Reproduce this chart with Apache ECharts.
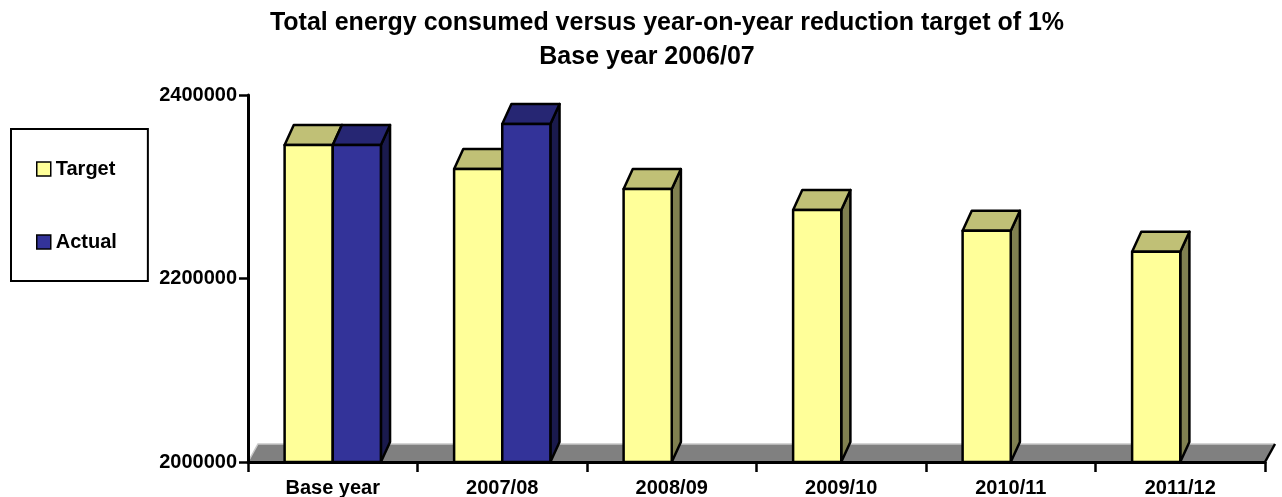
<!DOCTYPE html>
<html>
<head>
<meta charset="utf-8">
<script src="https://cdn.jsdelivr.net/npm/echarts@6/dist/echarts.min.js"></script>
<style>
html,body{margin:0;padding:0;background:#fff;}
#chart{width:1282px;height:497px;}
</style>
</head>
<body>
<div id="chart"></div>
<script>
const categories = ['Base year', '2007/08', '2008/09', '2009/10', '2010/11', '2011/12'];
const targetValues = [2345500, 2319300, 2297500, 2274700, 2252100, 2229200];
const actualValues = [2345500, 2368400];
const yMin = 2000000;
const yMax = 2400000;
const yInterval = 200000;
const titleLine1 = 'Total energy consumed versus year-on-year reduction target of 1%';
const titleLine2 = 'Base year 2006/07';

const FONT = '"Liberation Sans", Arial, sans-serif';
const colors = {
  Target: { front: '#FFFF99', top: '#C0C076', side: '#808050' },
  Actual: { front: '#333399', top: '#262673', side: '#1A1A4D' }
};

function makeBarRender(name, leftSlot) {
  return function (params, api) {
    const ci = api.value(0);
    const v = api.value(1);
    const p = api.coord([ci, v]);
    const b = api.coord([ci, yMin]);
    const band = api.size([1, 0])[0];
    const w = band * 0.284;
    const x0 = leftSlot ? p[0] - w : p[0];
    const x1 = x0 + w;
    const dx = band * 0.054;
    const dy = 20;
    const c = colors[name];
    const st = { stroke: '#000', lineWidth: 2.5, lineJoin: 'round' };
    return {
      type: 'group',
      children: [
        { type: 'polygon', shape: { points: [[x1, p[1]], [x1 + dx, p[1] - dy], [x1 + dx, b[1] - dy], [x1, b[1]]] },
          style: Object.assign({ fill: c.side }, st) },
        { type: 'polygon', shape: { points: [[x0, p[1]], [x0 + dx, p[1] - dy], [x1 + dx, p[1] - dy], [x1, p[1]]] },
          style: Object.assign({ fill: c.top }, st) },
        { type: 'rect', shape: { x: x0, y: p[1], width: w, height: b[1] - p[1] },
          style: Object.assign({ fill: c.front }, st) }
      ]
    };
  };
}

function floorRender(params, api) {
  const n = categories.length;
  const p0 = api.coord([0, yMin]);
  const pn = api.coord([n - 1, yMin]);
  const band = api.size([1, 0])[0];
  const l = p0[0] - band / 2;
  const r = pn[0] + band / 2;
  const y = p0[1];
  const dx = 10, dy = 18;
  return {
    type: 'group',
    children: [
      { type: 'polygon', shape: { points: [[l, y], [l + dx, y - dy], [r + dx, y - dy], [r, y]] },
        style: { fill: '#808080', stroke: null } },
      { type: 'polyline', shape: { points: [[l, y], [l + dx, y - dy], [r + dx, y - dy]] },
        style: { fill: null, stroke: '#C8C8C8', lineWidth: 1.5 } },
      { type: 'line', shape: { x1: r, y1: y, x2: r + dx, y2: y - dy },
        style: { stroke: '#000', lineWidth: 2.5 } }
    ]
  };
}

const chart = echarts.init(document.getElementById('chart'), null, { renderer: 'canvas' });
chart.setOption({
  backgroundColor: '#fff',
  animation: false,
  title: [
    { text: titleLine1, left: 667, top: 10, textAlign: 'center', padding: 0,
      textStyle: { fontFamily: FONT, fontWeight: 'bold', fontSize: 25, color: '#000', lineHeight: 26 } },
    { text: titleLine2, left: 647, top: 44, textAlign: 'center', padding: 0,
      textStyle: { fontFamily: FONT, fontWeight: 'bold', fontSize: 25, color: '#000', lineHeight: 26 } }
  ],
  legend: {
    orient: 'vertical',
    left: 11,
    top: 129,
    padding: [30, 31, 29, 25],
    itemGap: 53,
    itemWidth: 14,
    itemHeight: 14,
    borderColor: '#000',
    borderWidth: 2,
    textStyle: { fontFamily: FONT, fontWeight: 'bold', fontSize: 20, color: '#000', lineHeight: 20 },
    data: [
      { name: 'Target', icon: 'rect', itemStyle: { color: colors.Target.front, borderColor: '#000', borderWidth: 1.5 } },
      { name: 'Actual', icon: 'rect', itemStyle: { color: colors.Actual.front, borderColor: '#000', borderWidth: 1.5 } }
    ]
  },
  grid: { left: 248, right: 17, top: 95, bottom: 35, containLabel: false, outerBoundsMode: 'none' },
  xAxis: {
    type: 'category',
    data: categories,
    boundaryGap: true,
    z: 5,
    axisLine: { show: true, lineStyle: { color: '#000', width: 3 } },
    axisTick: { show: true, alignWithLabel: false, length: 10, lineStyle: { color: '#000', width: 2.5 } },
    axisLabel: { fontFamily: FONT, fontWeight: 'bold', fontSize: 20, color: '#000', margin: 16 },
    splitLine: { show: false }
  },
  yAxis: {
    type: 'value',
    min: yMin,
    max: yMax,
    interval: yInterval,
    z: 5,
    axisLine: { show: true, lineStyle: { color: '#000', width: 3 } },
    axisTick: { show: true, inside: false, length: 9, lineStyle: { color: '#000', width: 2.5 } },
    axisLabel: { fontFamily: FONT, fontWeight: 'bold', fontSize: 20, color: '#000', margin: 11,
      formatter: function (v) { return String(v); } },
    splitLine: { show: false }
  },
  series: [
    { name: 'floor', type: 'custom', silent: true, z: 1,
      data: [[0, yMin]], encode: { x: 0, y: 1 }, renderItem: floorRender },
    { name: 'Target', type: 'custom', z: 2,
      itemStyle: { color: colors.Target.front },
      data: targetValues.map((v, i) => [i, v]), encode: { x: 0, y: 1 },
      renderItem: makeBarRender('Target', true) },
    { name: 'Actual', type: 'custom', z: 2,
      itemStyle: { color: colors.Actual.front },
      data: actualValues.map((v, i) => [i, v]), encode: { x: 0, y: 1 },
      renderItem: makeBarRender('Actual', false) }
  ]
});
</script>
</body>
</html>
